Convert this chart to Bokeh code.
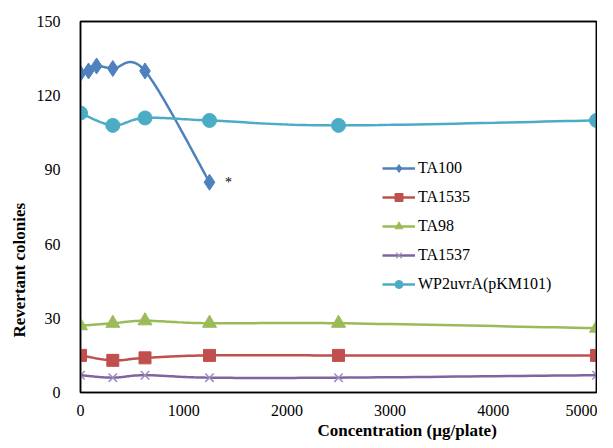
import numpy as np
from bokeh.plotting import figure
from bokeh.models import Range1d, FixedTicker, Legend, LegendItem, Label, ColumnDataSource, LinearAxis, Title
from bokeh.embed import file_html
from bokeh.resources import INLINE

# ---- data ----
ta100_x = [0, 78, 156, 313, 625, 1250]
ta100_y = [129, 130, 132, 131, 130, 85]
dose_x = [0, 313, 625, 1250, 2500, 5000]
ta1535_y = [15, 13, 14, 15, 15, 15]
ta98_y = [27, 28, 29, 28, 28, 26]
ta1537_y = [7, 6, 7, 6, 6, 7]
wp2_y = [113, 108, 111, 110, 108, 110]
x_ticks = [0, 1000, 2000, 3000, 4000, 5000]
y_ticks = [0, 30, 60, 90, 120, 150]

FONT = "Liberation Serif"


def smooth(xs, ys, n=24):
    """Catmull-Rom (Excel-like smoothed line) through the data points."""
    P = np.column_stack([xs, ys]).astype(float)
    out = [P[0]]
    for i in range(len(P) - 1):
        p0 = P[i - 1] if i > 0 else P[i]
        p1 = P[i]
        p2 = P[i + 1]
        p3 = P[i + 2] if i + 2 < len(P) else P[i + 1]
        c1 = p1 + (p2 - p0) / 6.0
        c2 = p2 - (p3 - p1) / 6.0
        t = np.linspace(0, 1, n)[1:, None]
        seg = ((1 - t) ** 3) * p1 + 3 * ((1 - t) ** 2) * t * c1 + 3 * (1 - t) * t ** 2 * c2 + t ** 3 * p2
        out.extend(seg)
    out = np.array(out)
    return out[:, 0], out[:, 1]


p = figure(width=597, height=441, output_backend="svg", toolbar_location=None,
           x_range=Range1d(0, 5000), y_range=Range1d(0, 150),
           min_border_left=80, min_border_right=1, min_border_top=21, min_border_bottom=49)
p.xgrid.visible = False
p.ygrid.visible = False
p.outline_line_color = "black"
p.outline_line_width = 1.5
p.background_fill_color = "white"
p.border_fill_color = "white"

for ax in (p.xaxis[0], p.yaxis[0]):
    ax.axis_line_color = "black"
    ax.axis_line_width = 1.5
    ax.major_tick_line_color = None
    ax.minor_tick_line_color = None
    ax.major_tick_out = 0
    ax.major_tick_in = 0
    ax.minor_tick_out = 0
    ax.major_label_text_font = FONT
    ax.major_label_text_font_size = "16px"
    ax.major_label_text_color = "black"
p.xaxis.ticker = FixedTicker(ticks=x_ticks)
p.yaxis.ticker = FixedTicker(ticks=y_ticks)
p.xaxis.major_label_standoff = 12
p.yaxis.major_label_standoff = 20

# frame border on the top and right
for side in ("above", "right"):
    a = LinearAxis(axis_line_color="black", axis_line_width=1.5,
                   major_tick_line_color=None, minor_tick_line_color=None,
                   major_tick_out=0, major_tick_in=0, minor_tick_out=0,
                   major_label_text_font_size="0px", ticker=FixedTicker(ticks=[]))
    p.add_layout(a, side)

series = [
    ("TA100", ta100_x, ta100_y, "#4F81BD", "diamond", 16, 9),
    ("TA1535", dose_x, ta1535_y, "#C0504D", "square", 12, 8),
    ("TA98", dose_x, ta98_y, "#9BBB59", "triangle", 14, 9),
    ("TA1537", dose_x, ta1537_y, "#8064A2", "x", 12, 9),
    ("WP2uvrA(pKM101)", dose_x, wp2_y, "#4BACC6", "circle", 14, 9),
]

items = []
for name, xs, ys, col, mk, sz, lsz in series:
    sx, sy = smooth(xs, ys)
    p.line(sx, sy, line_color=col, line_width=2.5)
    if mk == "x":
        p.scatter(xs, ys, marker="x", size=sz, line_color="#9F8BC0", line_width=1.5)
    else:
        p.scatter(xs, ys, marker=mk, size=sz, fill_color=col, line_color=col)
    # legend sample glyphs (not shown in the plot area)
    src = ColumnDataSource(data=dict(x=[np.nan], y=[np.nan]))
    lr = p.line("x", "y", source=src, line_color=col, line_width=2.5)
    if mk == "x":
        mr = p.scatter("x", "y", source=src, marker="x", size=lsz, line_color="#9F8BC0", line_width=1.2)
    else:
        mr = p.scatter("x", "y", source=src, marker=mk, size=lsz, fill_color=col, line_color=col)
    items.append(LegendItem(label=name, renderers=[lr, mr]))

legend = Legend(items=items, location=(302, 98), orientation="vertical",
                glyph_width=33, glyph_height=20, label_height=20, spacing=9,
                label_standoff=3, padding=0, margin=0,
                border_line_color=None, background_fill_alpha=0,
                label_text_font=FONT, label_text_font_size="16px", label_text_color="black")
p.add_layout(legend, "center")

p.add_layout(Label(x=1434, y=85, text="*", text_font=FONT, text_font_size="14px",
                   text_align="center", text_baseline="middle", text_color="black"))

ytitle = Title(text="Revertant colonies", align="left", offset=55,
               text_font=FONT, text_font_size="17px", text_font_style="bold",
               text_color="black", standoff=10)
p.add_layout(ytitle, "left")
xtitle = Title(text="Concentration (µg/plate)", align="left", offset=237,
               text_font=FONT, text_font_size="17px", text_font_style="bold",
               text_color="black", standoff=0)
p.add_layout(xtitle, "below")

open("out.html", "w").write(file_html(p, INLINE))
